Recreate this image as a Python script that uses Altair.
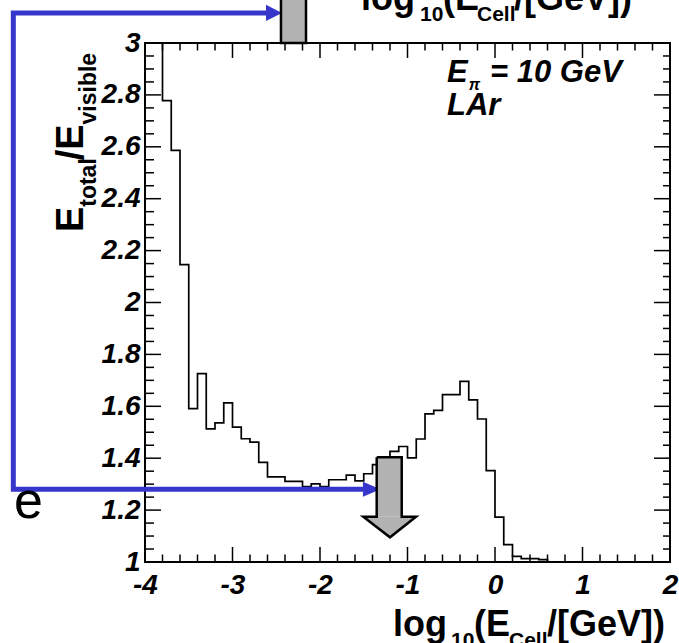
import altair as alt
import pandas as pd

# ---------------- data ----------------
bin_left = [-4.0, -3.9, -3.8, -3.7, -3.6, -3.5, -3.4, -3.3, -3.2, -3.1,
            -3.0, -2.9, -2.8, -2.7, -2.6, -2.5, -2.4, -2.3, -2.2, -2.1,
            -2.0, -1.9, -1.8, -1.7, -1.6, -1.5, -1.4, -1.3, -1.2, -1.1,
            -1.0, -0.9, -0.8, -0.7, -0.6, -0.5, -0.4, -0.3, -0.2, -0.1,
            0.0, 0.1, 0.2, 0.3, 0.4, 0.5, 0.6, 0.7, 0.8, 0.9,
            1.0, 1.1, 1.2, 1.3, 1.4, 1.5, 1.6, 1.7, 1.8, 1.9]
ratio = [3.6, 3.2, 2.778, 2.586, 2.146, 1.591, 1.726, 1.513, 1.536, 1.613,
         1.520, 1.475, 1.462, 1.384, 1.328, 1.328, 1.311, 1.311, 1.291, 1.301,
         1.291, 1.317, 1.317, 1.335, 1.313, 1.340, 1.375, 1.400, 1.426, 1.445,
         1.401, 1.474, 1.571, 1.584, 1.645, 1.645, 1.696, 1.625, 1.551, 1.352,
         1.173, 1.067, 1.022, 1.013, 1.013, 1.009, 1.0, 1.0, 1.0, 1.0,
         1.0, 1.0, 1.0, 1.0, 1.0, 1.0, 1.0, 1.0, 1.0, 1.0]
x_edge_last = 2.0

x_label_values = [-4, -3, -2, -1, 0, 1, 2]
y_label_values = [1, 1.2, 1.4, 1.6, 1.8, 2, 2.2, 2.4, 2.6, 2.8, 3]
x_minor_values = [round(-4 + 0.2 * i, 1) for i in range(31)]
y_minor_values = [round(1 + 0.05 * i, 2) for i in range(41)]

# annotation texts (data units)
xt_main_t = ["log", "(E", "/[GeV])", "log", "(E", "/[GeV])"]
xt_main_x = [-1.166, -0.240, 0.594, -1.531, -0.594, 0.217]
xt_main_y = [0.7148, 0.7148, 0.7148, 3.127, 3.127, 3.127]
xt_sub_t = ["10", "Cell", "10", "Cell"]
xt_sub_x = [-0.503, 0.160, -0.857, -0.206]
xt_sub_y = [0.6724, 0.6724, 3.085, 3.085]

yt_main_t = ["E", "/E"]
yt_main_x = [-4.709, -4.709]
yt_main_y = [2.272, 2.548]
yt_sub_t = ["total", "visible"]
yt_sub_x = [-4.56, -4.56]
yt_sub_y = [2.369, 2.686]

leg_t = ["E", "= 10 GeV", "LAr"]
leg_x = [-0.549, -0.057, -0.549]
leg_y = [2.850, 2.850, 2.7225]
leg_sub_t = ["π"]
leg_sub_x = [-0.300]
leg_sub_y = [2.819]

edge_t = ["e"]
edge_x = [-5.497]
edge_y = [1.170]

# blue annotation path and heads
blue_x = [-2.617, -5.505, -5.505, -1.509]
blue_y = [3.116, 3.116, 1.280, 1.280]
blue_head_g = ["top", "top", "bot", "bot"]
blue_head_x = [-2.617, -2.434, -1.509, -1.309]
blue_head_y = [3.147, 3.116, 1.309, 1.280]
blue_head_y2 = [3.085, 3.116, 1.251, 1.280]

# grey arrow
arrow_shaft = dict(x=[-1.352], x2=[-1.066], y=[1.4035], y2=[1.1746])
arrow_head_x = [-1.505, -1.2, -0.903]
arrow_head_y = [1.1746, 1.1746, 1.1746]
arrow_head_y2 = [1.1746, 1.0952, 1.1746]
arrow_out_x = [-1.352, -1.066, -1.066, -0.903, -1.2, -1.505, -1.352, -1.352]
arrow_out_y = [1.4035, 1.4035, 1.1746, 1.1746, 1.0952, 1.1746, 1.1746, 1.4035]

box = dict(x=[-2.446], x2=[-2.160], y=[3.0], y2=[3.204])

# ---------------- chart ----------------
W, H = 525, 519
FONT = "Liberation Sans"
BLUE = "#3636cc"
GREY = "#b2b2b2"

xs = alt.Scale(domain=[-4, 2], nice=False, zero=False)
ys = alt.Scale(domain=[1, 3], nice=False, zero=False)

x_axis = alt.Axis(values=x_label_values, labelExpr="datum.value + ''", title=None,
                  labelPadding=9)
y_axis = alt.Axis(values=y_label_values, labelExpr="datum.value + ''", title=None,
                  labelPadding=5, labelBaseline="middle")


def X(f="x"):
    return alt.X(f"{f}:Q", scale=xs, axis=x_axis, title=None)


def Y(f="y"):
    return alt.Y(f"{f}:Q", scale=ys, axis=y_axis, title=None)


hist_df = pd.DataFrame({"x": bin_left + [x_edge_last], "y": ratio + [ratio[-1]]})
hist = alt.Chart(hist_df).mark_line(
    interpolate="step-after", color="black", strokeWidth=1.7, clip=True
).encode(x=X(), y=Y())

layers = [hist]

x_major = x_label_values
x_minor = [v for v in x_minor_values if v not in x_major]
y_major = y_label_values
y_minor = [v for v in y_minor_values if round(v * 5, 6) != round(v * 5)]


def xticks(vals, length):
    df = pd.DataFrame({"x": vals})
    top = alt.Chart(df).mark_rule(color="black", strokeWidth=1.5).encode(
        x=X(), y=alt.value(0), y2=alt.value(length))
    bot = alt.Chart(df).mark_rule(color="black", strokeWidth=1.5).encode(
        x=X(), y=alt.value(H), y2=alt.value(H - length))
    return [top, bot]


def yticks(vals, left_len, right_len):
    df = pd.DataFrame({"y": vals})
    left = alt.Chart(df).mark_rule(color="black", strokeWidth=1.5).encode(
        y=Y(), x=alt.value(0), x2=alt.value(left_len))
    right = alt.Chart(df).mark_rule(color="black", strokeWidth=1.5).encode(
        y=Y(), x=alt.value(W), x2=alt.value(W - right_len))
    return [left, right]


layers += xticks(x_major, 15)
layers += xticks(x_minor, 7.5)
layers += yticks(y_major, 16, 16)
layers += yticks(y_minor, 9, 7)

# blue path
blue_df = pd.DataFrame({"x": blue_x, "y": blue_y, "o": list(range(len(blue_x)))})
layers.append(alt.Chart(blue_df).mark_line(
    color=BLUE, strokeWidth=5, strokeJoin="miter").encode(
    x=X(), y=Y(), order="o:Q"))
bh_df = pd.DataFrame({"g": blue_head_g, "x": blue_head_x, "y": blue_head_y, "y2": blue_head_y2})
layers.append(alt.Chart(bh_df).mark_area(color=BLUE, opacity=1).encode(
    x=X(), y=Y(), y2="y2:Q", detail="g:N"))

# grey arrow
layers.append(alt.Chart(pd.DataFrame(arrow_shaft)).mark_rect(fill=GREY, strokeWidth=0).encode(
    x=X(), x2="x2:Q", y=Y(), y2="y2:Q"))
ah_df = pd.DataFrame({"x": arrow_head_x, "y": arrow_head_y, "y2": arrow_head_y2})
layers.append(alt.Chart(ah_df).mark_area(color=GREY, opacity=1).encode(
    x=X(), y=Y(), y2="y2:Q"))
ao_df = pd.DataFrame({"x": arrow_out_x, "y": arrow_out_y, "o": list(range(len(arrow_out_x)))})
layers.append(alt.Chart(ao_df).mark_line(
    color="black", strokeWidth=2.5, strokeJoin="miter").encode(
    x=X(), y=Y(), order="o:Q"))

# grey box at top
layers.append(alt.Chart(pd.DataFrame(box)).mark_rect(
    fill=GREY, stroke="black", strokeWidth=2.5).encode(
    x=X(), x2="x2:Q", y=Y(), y2="y2:Q"))


def text_layer(t, x, y, size, weight="bold", style="normal", angle=0):
    df = pd.DataFrame({"t": t, "x": x, "y": y})
    return alt.Chart(df).mark_text(
        font=FONT, fontSize=size, fontWeight=weight, fontStyle=style,
        angle=angle, align="left", baseline="alphabetic", color="black"
    ).encode(x=X(), y=Y(), text="t:N")


layers.append(text_layer(xt_main_t, xt_main_x, xt_main_y, 36))
layers.append(text_layer(xt_sub_t, xt_sub_x, xt_sub_y, 21))
layers.append(text_layer(yt_main_t, yt_main_x, yt_main_y, 38, angle=270))
layers.append(text_layer(yt_sub_t, yt_sub_x, yt_sub_y, 23, angle=270))
layers.append(text_layer(leg_t, leg_x, leg_y, 31, style="italic"))
layers.append(text_layer(leg_sub_t, leg_sub_x, leg_sub_y, 16, style="italic"))
layers.append(text_layer(edge_t, edge_x, edge_y, 52, weight="normal"))

chart = alt.layer(*layers).properties(
    width=W, height=H,
    padding={"left": 145, "top": 43, "right": 9, "bottom": 81},
    autosize=alt.AutoSizeParams(type="none"),
    background="white",
).configure_view(
    stroke="black", strokeWidth=2
).configure_axis(
    domain=False, ticks=False, grid=False, labelFont=FONT, labelFontSize=28,
    labelFontWeight="bold", labelFontStyle="italic", labelColor="black",
    labelFlush=False, labelOverlap=False, title=None,
)

chart.save("out.html", embed_options={"renderer": "svg", "actions": False})
